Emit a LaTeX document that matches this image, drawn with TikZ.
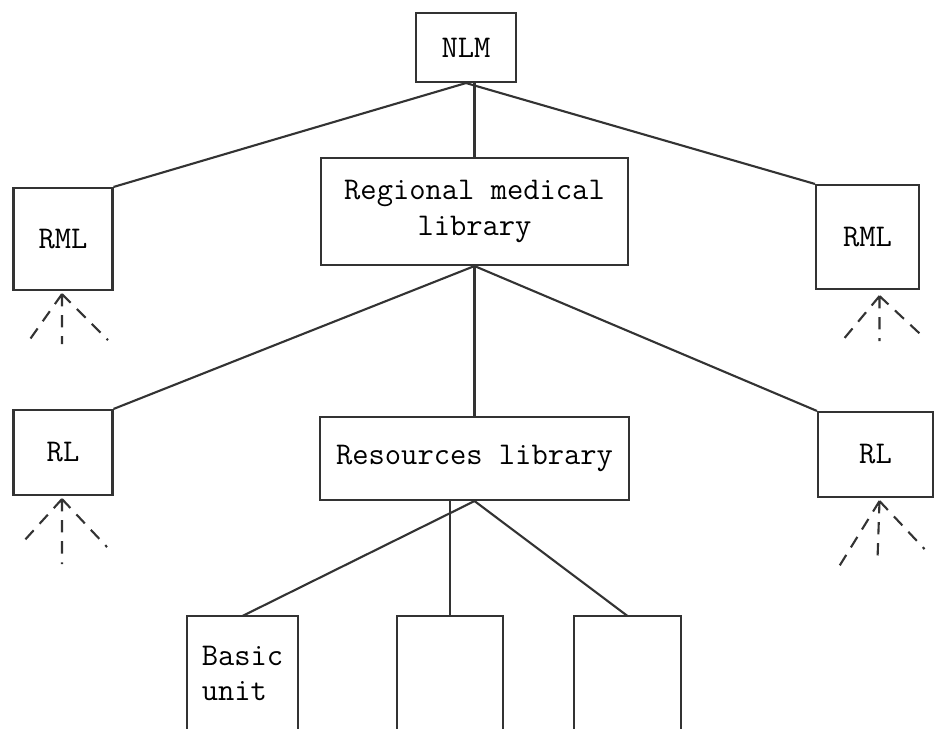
\documentclass[tikz,border=0pt]{standalone}
\usepackage{tikz}
\usetikzlibrary{calc}
\colorlet{ink}{black!80}

\begin{document}
\begin{tikzpicture}[x=0.02cm,y=-0.02cm,
    box/.style={draw=ink,line width=1.2pt,inner sep=0pt,align=center,
      font=\fontsize{18}{20}\selectfont\ttfamily},
    openbox/.style={box,draw=none},
    link/.style={ink,line width=1.2pt},
    fan/.style={ink,line width=1.2pt,dash pattern=on 7pt off 5pt}]
  \useasboundingbox (0,0) rectangle (935,729);

  \node[box,minimum width=2cm,minimum height=1.38cm] (nlm) at (466,47.5) {NLM};
  \node[box,minimum width=1.98cm,minimum height=2.04cm] (rmlL) at (63,239) {RML};
  \node[box,minimum width=2.06cm,minimum height=2.08cm] (rmlR) at (867.5,237) {RML};
  \node[box,minimum width=6.14cm,minimum height=2.14cm] (rml) at (474.5,211.5)
    {Regional medical\\library};
  \node[box,minimum width=1.98cm,minimum height=1.7cm] (rlL) at (63,452.5) {RL};
  \node[box,minimum width=2.3cm,minimum height=1.7cm] (rlR) at (875.5,454.5) {RL};
  \node[box,minimum width=6.18cm,minimum height=1.66cm] (res) at (474.5,458.5)
    {Resources library};
  \node[openbox,minimum width=2.18cm,minimum height=2.24cm,align=left] (basic) at (242.5,673)
    {Basic\\unit};
  \node[openbox,minimum width=2.08cm,minimum height=2.24cm] (mid) at (450,673) {};
  \node[openbox,minimum width=2.1cm,minimum height=2.24cm] (last) at (627.5,673) {};
  \foreach \b in {basic,mid,last}
    \draw[ink,line width=1.2pt] (\b.south west) -- (\b.north west) -- (\b.north east) -- (\b.south east);

  \draw[link] (nlm.south) -- (rmlL.north east);
  \draw[link] (nlm.south) -- (rmlR.north west);
  \draw[link] (rml.north |- nlm.south) -- (rml.north);
  \draw[link] (rml.south) -- (rlL.north east);
  \draw[link] (rml.south) -- (rlR.north west);
  \draw[link] (rml.south) -- (res.north);
  \draw[link] (res.south) -- (basic.north);
  \draw[link] (mid.north |- res.south) -- (mid.north);
  \draw[link] (res.south) -- (last.north);

  \coordinate (f1) at ($(rmlL.south)+(-1,3)$);
  \coordinate (f2) at ($(rmlR.south)+(12,6)$);
  \coordinate (f3) at ($(rlL.south)+(-1,3)$);
  \coordinate (f4) at ($(rlR.south)+(4,3)$);
  \draw[fan] (f1) -- ++(-34,48) (f1) -- ++(0,50) (f1) -- ++(46,46);
  \draw[fan] (f2) -- ++(-35,42) (f2) -- ++(0,45) (f2) -- ++(45,42);
  \draw[fan] (f3) -- ++(-39,43) (f3) -- ++(0,65) (f3) -- ++(45,48);
  \draw[fan] (f4) -- ++(-42,68) (f4) -- ++(-2,58) (f4) -- ++(45,48);
\end{tikzpicture}
\end{document}
